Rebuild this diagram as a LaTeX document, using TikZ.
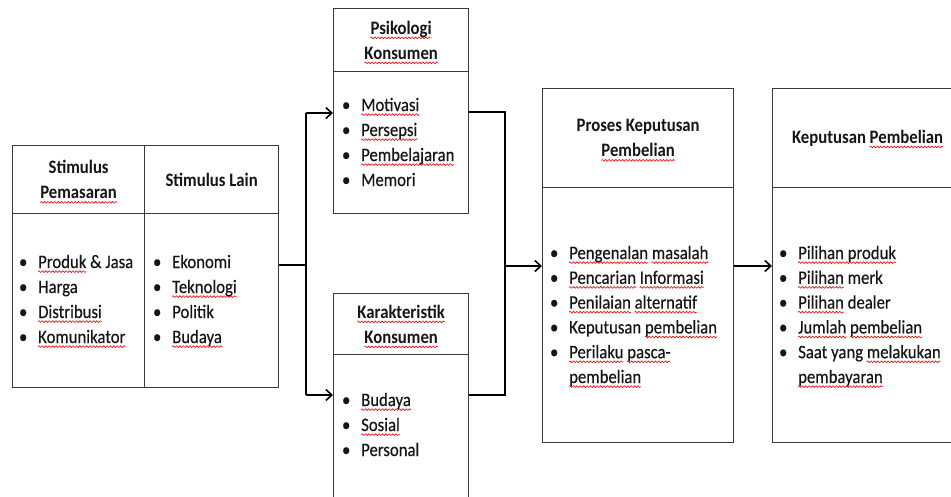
\documentclass[tikz,border=0pt]{standalone}
\usepackage{fontspec}
\setmainfont[FakeStretch=0.88, UprightFeatures={FakeBold=0.35}]{Carlito}
\usetikzlibrary{arrows.meta,decorations.pathmorphing}
\definecolor{frame}{HTML}{3A3A3A}
\definecolor{ink}{HTML}{151515}
% red wavy underline (spell-check marks)
\newlength\sqw
\newcommand\sq[1]{\settowidth\sqw{#1}\rlap{\tikz[overlay,baseline=0pt]\draw[red, line width=0.6pt, decorate, decoration={zigzag, segment length=3.4pt, amplitude=0.9pt}] (0pt,-3.6pt) -- (\sqw,-3.6pt);}#1}
\newcommand\bul{\llap{\makebox[30pt]{•}}}
\tikzset{
  cell/.style={draw=frame, line width=1.3pt, inner sep=0pt, anchor=north west, text=ink},
  head/.style={cell, align=center, font=\bfseries\fontsize{19}{25}\selectfont},
  item/.style={anchor=base west, inner sep=0pt, text=ink, font=\fontsize{19}{25}\selectfont},
  link/.style={line width=1.8pt, black},
  arr/.style={link, -{Straight Barb[length=6pt,width=11pt,line width=1.6pt]}}
}
\begin{document}
\begin{tikzpicture}[x=1pt,y=-1pt]
\useasboundingbox (0,0) rectangle (951,496);
\fill[white] (0,0) rectangle (951,496);
\clip (0,0) rectangle (951,496);

% stimulus block
\node[head, minimum width=132pt, minimum height=68pt] (sph) at (12,145) {Stimulus\\\sq{Pemasaran}};
\node[head, minimum width=134pt, minimum height=68pt] (slh) at (144,145) {Stimulus Lain};
\node[cell, minimum width=132pt, minimum height=174pt] (spb) at (12,213) {};
\node[cell, minimum width=134pt, minimum height=174pt] (slb) at (144,213) {};
\foreach \t [count=\i] in {{\sq{Produk} \& Jasa},Harga,\sq{Distribusi},\sq{Komunikator}}
  \node[item] (spi\i) at (38,{268+25*(\i-1)}) {\bul\t};
\foreach \t [count=\i] in {Ekonomi,\sq{Teknologi},Politik,\sq{Budaya}}
  \node[item] (sli\i) at (172,{268+25*(\i-1)}) {\bul\t};

% consumer psychology
\node[head, minimum width=135pt, minimum height=63pt] (pkh) at (333,8) {\sq{Psikologi}\\\sq{Konsumen}};
\node[cell, minimum width=135pt, minimum height=142pt] (pkb) at (333,71) {};
\foreach \t [count=\i] in {\sq{Motivasi},\sq{Persepsi},\sq{Pembelajaran},Memori}
  \node[item] (pki\i) at (361,{111+25*(\i-1)}) {\bul\t};

% consumer characteristics
\node[head, minimum width=135pt, minimum height=61pt] (kkh) at (333,293) {\sq{Karakteristik}\\\sq{Konsumen}};
\node[cell, minimum width=135pt, minimum height=150pt] (kkb) at (333,354) {};
\foreach \t [count=\i] in {\sq{Budaya},\sq{Sosial},Personal}
  \node[item] (kki\i) at (361,{406+25*(\i-1)}) {\bul\t};

% decision process
\node[head, minimum width=191pt, minimum height=99pt] (prh) at (542,88) {Proses Keputusan\\\sq{Pembelian}};
\node[cell, minimum width=191pt, minimum height=255pt] (prb) at (542,187) {};
\foreach \t [count=\i] in {{\sq{Pengenalan} \sq{masalah}},{\sq{Pencarian} \sq{Informasi}},{\sq{Penilaian} \sq{alternatif}},{Keputusan \sq{pembelian}},{\sq{Perilaku} \sq{pasca-}}}
  \node[item] (pri\i) at (569,{259+24.8*(\i-1)}) {\bul\t};
\node[item] (pri6) at (569,383) {\sq{pembelian}};

% purchase decision
\node[head, minimum width=190pt, minimum height=99pt] (kph) at (772,88) {Keputusan \sq{Pembelian}};
\node[cell, minimum width=190pt, minimum height=255pt] (kpb) at (772,187) {};
\foreach \t [count=\i] in {{\sq{Pilihan produk}},{\sq{Pilihan} merk},{\sq{Pilihan} dealer},{\sq{Jumlah} \sq{pembelian}},{Saat yang \sq{melakukan}}}
  \node[item] (kpi\i) at (798,{259+24.8*(\i-1)}) {\bul\t};
\node[item] (kpi6) at (798,383) {\sq{pembayaran}};

% junction points
\coordinate (jl) at (306,265);
\coordinate (jlt) at (306,113);
\coordinate (jlb) at (306,395);
\coordinate (jr) at (505,266);
\coordinate (jrt) at (505,112);
\coordinate (jrb) at (505,395);

% connectors
\draw[line width=2.6pt] (jl -| slb.east) -- (jl);
\draw[link] (jlt) -- (jlb);
\draw[arr] (jlt) -- (jlt -| pkb.west);
\draw[arr] (jlb) -- (jlb -| kkb.west);
\draw[link] (jrt -| pkb.east) -- (jrt) -- (jrb) -- (jrb -| kkb.east);
\draw[arr] (jr) -- (jr -| prb.west);
\draw[arr] (jr -| prb.east) -- (jr -| kpb.west);
\end{tikzpicture}
\end{document}
